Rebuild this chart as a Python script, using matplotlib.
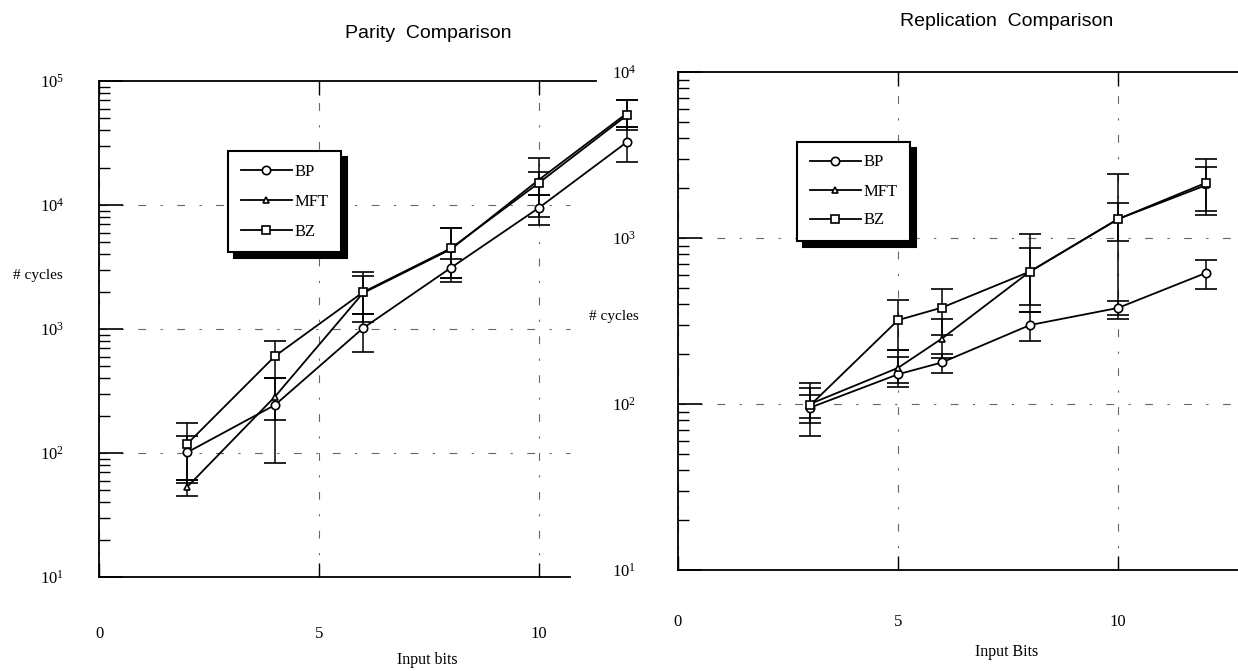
import numpy as np
import matplotlib
matplotlib.use("Agg")
from matplotlib import pyplot as plt
from matplotlib.lines import Line2D

plt.rcParams['font.family'] = ['Liberation Serif', 'DejaVu Serif']

# Parity comparison (left)
par_x = [2, 4, 6, 8, 10, 12]
par_bp = [101, 244, 1015, 3120, 9500, 32200]
par_bp_lo = [57, 83, 657, 2570, 6900, 22200]
par_bp_hi = [137, 405, 1320, 3650, 12050, 42500]
par_mft = [53, 285, 1950, 4400, 16000, 55000]
par_mft_lo = [45, 185, 1145, 2410, 8050, 40300]
par_mft_hi = [60.5, 400, 2900, 6560, 23800, 70000]
par_bz = [118, 605, 1980, 4480, 15100, 53000]
par_bz_lo = [60.5, 400, 1320, 2570, 12050, 42500]
par_bz_hi = [175, 800, 2670, 6560, 18600, 70000]

# Replication comparison (right)
rep_x = [3, 5, 6, 8, 10, 12]
rep_bp = [95, 151, 178, 299, 379, 616]
rep_bp_lo = [64, 126, 153, 239, 324, 496]
rep_bp_hi = [125, 191, 200, 356, 420, 741]
rep_mft = [100, 165, 248, 628, 1300, 2080]
rep_mft_lo = [82, 134, 188, 397, 343, 1456]
rep_mft_hi = [114, 211, 327, 1057, 2415, 2670]
rep_bz = [98, 320, 381, 628, 1300, 2150]
rep_bz_lo = [77, 211, 260, 356, 964, 1374]
rep_bz_hi = [134, 422, 496, 867, 1622, 3000]

names = ['BP', 'MFT', 'BZ']
markers = ['o', '^', 's']
msizes = [6, 4, 5.5]

W, H = 1238.0, 671.0
fig = plt.figure(figsize=(W / 100, H / 100), dpi=100)
ax1 = fig.add_axes([99 / W, 1 - 577 / H, 572 / W, 496 / H])
ax2 = fig.add_axes([678 / W, 1 - 570 / H, 560 / W, 498 / H])

grid_ls = (0, (7, 13, 2, 13))


def series(ax, x, y, lo, hi, marker, ms):
    y = np.array(y, dtype=float)
    err = [y - np.array(lo), np.array(hi) - y]
    ax.errorbar(x, y, yerr=err, color='black', lw=1.3, elinewidth=1.1,
                capsize=8, capthick=1.4, marker=marker, ms=ms,
                mfc='white', mec='black', mew=1.2, zorder=3)


def style(ax, ymax, ydec, xmax, ypad, xpad, grid_to):
    ax.set_yscale('log')
    ax.set_ylim(10, ymax)
    ax.set_xlim(0, xmax)
    ax.set_xticks([0, 5, 10])
    ax.set_xticklabels(['0', '5', '10'], fontsize=12)
    ticks = [10.0 ** k for k in ydec]
    ax.set_yticks(ticks)
    ax.set_yticklabels([r'$\mathregular{10^{%d}}$' % k for k in ydec], fontsize=12)
    ax.tick_params(axis='y', which='major', direction='in', length=17, width=1.2, pad=ypad)
    ax.tick_params(axis='y', which='minor', direction='in', length=8, width=1.0)
    ax.tick_params(axis='x', which='major', direction='in', length=10, width=1.0,
                   top=True, pad=xpad)
    ax.spines['right'].set_visible(False)
    for s in ['left', 'top', 'bottom']:
        ax.spines[s].set_linewidth(1.3)
    ax.grid(True, axis='x', which='major', ls=grid_ls, lw=0.8, color='0.4')
    ax.hlines(ticks[1:-1], 0, grid_to, linestyles=[grid_ls], lw=0.8, color='0.4', zorder=1)


for ys, lo, hi, m, ms in zip([par_bp, par_mft, par_bz], [par_bp_lo, par_mft_lo, par_bz_lo],
                             [par_bp_hi, par_mft_hi, par_bz_hi], markers, msizes):
    series(ax1, par_x, ys, lo, hi, m, ms)
style(ax1, 1e5, [1, 2, 3, 4, 5], 13, 25, 35, 10.7)
ax1.spines['top'].set_bounds(0, 11.3)
ax1.spines['bottom'].set_bounds(0, 10.7)

for ys, lo, hi, m, ms in zip([rep_bp, rep_mft, rep_bz], [rep_bp_lo, rep_mft_lo, rep_bz_lo],
                             [rep_bp_hi, rep_mft_hi, rep_bz_hi], markers, msizes):
    series(ax2, rep_x, ys, lo, hi, m, ms)
style(ax2, 1e4, [1, 2, 3, 4], 560 / 44.0, 30, 32, 560 / 44.0)

handles = [Line2D([], [], color='black', lw=1.3, marker=m, ms=ms, mfc='white',
                  mec='black', mew=1.2) for m, ms in zip(markers, msizes)]

for ax, anchor, sp in [(ax1, ((228 - 99) / 572, (577 - 151) / 496), 0.85),
                       (ax2, ((797 - 678) / 560, (570 - 142) / 498), 0.78)]:
    leg = ax.legend(handles, names, loc='upper left', bbox_to_anchor=anchor,
                    borderaxespad=0, fontsize=12, fancybox=False, framealpha=1,
                    edgecolor='black', handlelength=3.1, handletextpad=0.15,
                    labelspacing=sp, borderpad=0.75,
                    shadow={'ox': 4, 'oy': -4, 'color': 'black', 'alpha': 1})
    leg.get_frame().set_linewidth(1.5)
    leg.set_zorder(5)

fig.text(428 / W, 1 - 33 / H, 'Parity  Comparison', family='Liberation Sans',
         fontsize=14, ha='center', va='center')
fig.text(1007 / W, 1 - 22 / H, 'Replication  Comparison', family='Liberation Sans',
         fontsize=14, ha='center', va='center')
fig.text(38 / W, 1 - 275 / H, '# cycles', fontsize=11, ha='center', va='center')
fig.text(614 / W, 1 - 317 / H, '# cycles', fontsize=11, ha='center', va='center')
fig.text(427 / W, 1 - 660 / H, 'Input bits', fontsize=11.5, ha='center', va='center')
fig.text(1007 / W, 1 - 652 / H, 'Input Bits', fontsize=11.5, ha='center', va='center')

fig.savefig('out.png', dpi=100)
